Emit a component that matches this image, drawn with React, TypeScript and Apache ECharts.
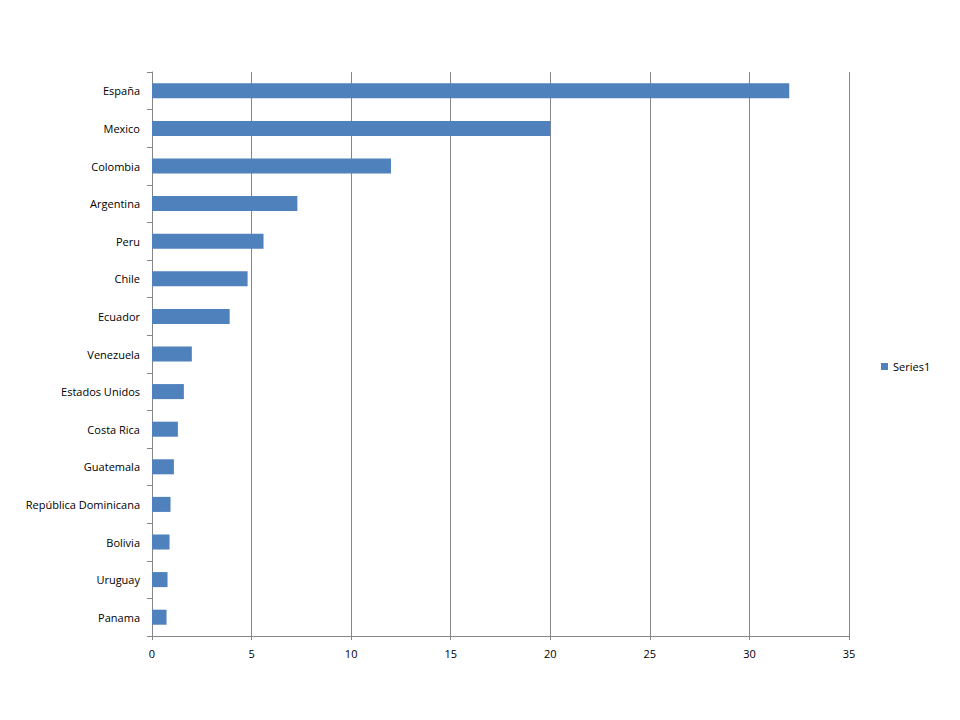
import React, { useEffect, useRef } from "react";
import * as echarts from "echarts";

const categories = [
  "España",
  "Mexico",
  "Colombia",
  "Argentina",
  "Peru",
  "Chile",
  "Ecuador",
  "Venezuela",
  "Estados Unidos",
  "Costa Rica",
  "Guatemala",
  "República Dominicana",
  "Bolivia",
  "Uruguay",
  "Panama",
];
const series1 = [32, 20, 12, 7.3, 5.6, 4.8, 3.9, 2.0, 1.6, 1.3, 1.1, 0.93, 0.88, 0.78, 0.73];
const xTicks = { min: 0, max: 35, interval: 5 };

export default function App() {
  const ref = useRef<HTMLDivElement>(null);
  useEffect(() => {
    if (!ref.current) return;
    const chart = echarts.init(ref.current, null, { renderer: "svg" });
    const font = "'Open Sans', 'Noto Sans', sans-serif";
    chart.setOption({
      animation: false,
      backgroundColor: "#ffffff",
      textStyle: { fontFamily: font },
      grid: { left: 152, right: 111, top: 72, bottom: 84, containLabel: false },
      legend: {
        show: true,
        left: 876,
        top: 356,
        orient: "vertical",
        itemWidth: 7,
        itemHeight: 7,
        itemGap: 4,
        icon: "rect",
        textStyle: { fontSize: 11, color: "#000", fontFamily: font },
        data: ["Series1"],
      },
      xAxis: {
        type: "value",
        min: xTicks.min,
        max: xTicks.max,
        interval: xTicks.interval,
        axisLine: { show: true, lineStyle: { color: "#868686", width: 1 } },
        axisTick: { show: true, length: 4, lineStyle: { color: "#868686" } },
        axisLabel: { color: "#000", fontSize: 11, margin: 12, fontFamily: font },
        splitLine: { show: true, lineStyle: { color: "#868686", width: 1 } },
      },
      yAxis: {
        type: "category",
        data: categories,
        inverse: true,
        axisLine: { show: true, lineStyle: { color: "#868686", width: 1 } },
        axisTick: { show: true, length: 5, alignWithLabel: false, lineStyle: { color: "#868686" } },
        axisLabel: { color: "#000", fontSize: 11, margin: 12, fontFamily: font },
        splitLine: { show: false },
      },
      series: [
        {
          name: "Series1",
          type: "bar",
          data: series1,
          barCategoryGap: "60%",
          itemStyle: { color: "#4F81BD" },
        },
      ],
    });
    return () => chart.dispose();
  }, []);
  return <div ref={ref} style={{ width: 960, height: 720, position: "absolute", left: 0, top: 0 }} />;
}
